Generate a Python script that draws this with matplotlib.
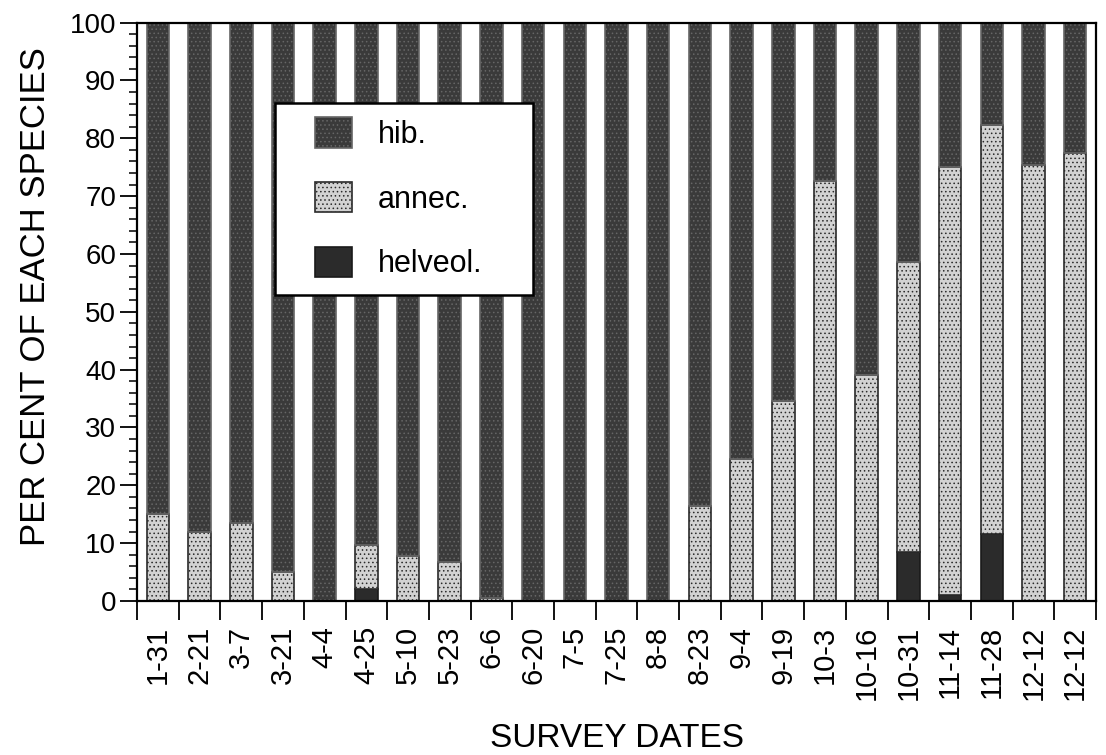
import numpy as np
import matplotlib
matplotlib.use('Agg')
import matplotlib.pyplot as plt
from matplotlib.ticker import MultipleLocator
from matplotlib.patches import Rectangle

plt.rcParams['font.family'] = ['Liberation Sans', 'DejaVu Sans']
plt.rcParams['hatch.linewidth'] = 0.6

dates = ['1-31', '2-21', '3-7', '3-21', '4-4', '4-25', '5-10', '5-23', '6-6',
         '6-20', '7-5', '7-25', '8-8', '8-23', '9-4', '9-19', '10-3', '10-16',
         '10-31', '11-14', '11-28', '12-12', '12-12']
helveol = [0, 0, 0, 0, 0, 2, 0, 0, 0, 0, 0, 0, 0, 0, 0, 0, 0, 0,
           8.5, 1, 11.5, 0, 0]
annec = [15, 12, 13.5, 5, 0, 7.7, 7.7, 6.7, 0.5, 0, 0, 0, 0, 16.5, 24.5, 34.5,
         72.7, 39, 50.2, 74, 70.8, 75.3, 77.4]
hib = [100 - a - h for a, h in zip(annec, helveol)]

fig = plt.figure(figsize=(11.06, 7.55), dpi=100)
ax = fig.add_axes([0.1239, 0.204, 0.8671, 0.766])

x = np.arange(len(dates))
w = 0.54
ax.bar(x, helveol, w, color='#2b2b2b', edgecolor='#1a1a1a', linewidth=1.2,
       label='helveol.')
ax.bar(x, annec, w, bottom=helveol, color='#d2d2d2', edgecolor='#2a2a2a',
       linewidth=1.2, hatch='....', label='annec.')
bot = [a + h for a, h in zip(annec, helveol)]
ax.bar(x, hib, w, bottom=bot, color='#3a3a3a', edgecolor='#666666',
       linewidth=1.2, hatch='....', label='hib.')

ax.set_xlim(-0.5, len(dates) - 0.5)
ax.set_ylim(0, 100)
ax.yaxis.set_major_locator(MultipleLocator(10))
ax.yaxis.set_minor_locator(MultipleLocator(2))
ax.tick_params(axis='y', which='major', length=12, width=1.3, labelsize=20,
               direction='out', pad=3)
ax.tick_params(axis='y', which='minor', length=6, width=1.1, direction='out')

ax.set_xticks(x)
ax.set_xticklabels(dates, rotation=90, fontsize=21)
ax.set_xticks(np.arange(-0.5, len(dates)), minor=True)
ax.tick_params(axis='x', which='major', length=0, pad=18)
ax.tick_params(axis='x', which='minor', length=14, width=1.3, direction='out')

for s in ax.spines.values():
    s.set_linewidth(1.6)

ax.set_ylabel('PER CENT OF EACH SPECIES', fontsize=25)
ax.yaxis.set_label_coords(-0.089, 0.526)
ax.set_xlabel('SURVEY DATES', fontsize=24, labelpad=16)

# legend box (wider than matplotlib's own frame, as in the original)
box = Rectangle((0.1439, 0.529), 0.2691, 0.3327, transform=ax.transAxes,
                facecolor='white', edgecolor='black', linewidth=1.8,
                zorder=9)
ax.add_patch(box)

h, l = ax.get_legend_handles_labels()
leg = ax.legend(h[::-1], l[::-1], loc='upper left',
                bbox_to_anchor=(0.1856, 0.836), fontsize=22, frameon=False,
                handlelength=1.2, handleheight=1.15, labelspacing=1.05,
                borderpad=0, handletextpad=0.85, borderaxespad=0)
leg.set_zorder(10)

fig.savefig('out.png', dpi=100)
